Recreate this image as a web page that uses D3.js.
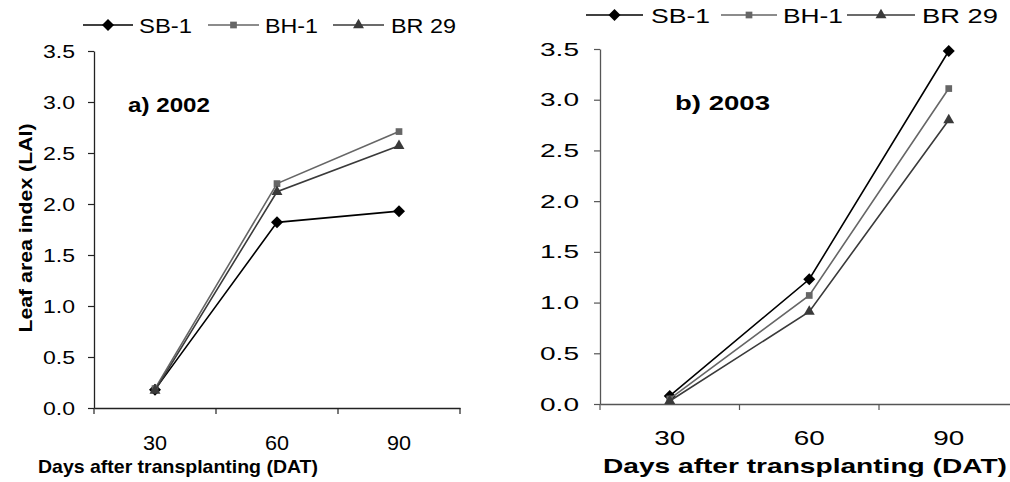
<!DOCTYPE html>
<html>
<head>
  <script src='https://d3js.org/d3.v7.min.js'></script>
  <style>
    body { margin: 0; background: #fff; }
    text { font-family: 'Liberation Sans', Arial, sans-serif; }
  </style>
</head>
<body>
  <svg id="canvas" width="1010" height="482"></svg>
  <script>
    // data
    const days = ['30', '60', '90'];
    const varieties = ['SB-1', 'BH-1', 'BR 29'];
    const lai2002 = {
      'SB-1': [0.18, 1.82, 1.93],
      'BH-1': [0.19, 2.20, 2.71],
      'BR 29': [0.17, 2.12, 2.57]
    };
    const lai2003 = {
      'SB-1': [0.08, 1.23, 3.48],
      'BH-1': [0.05, 1.07, 3.11],
      'BR 29': [0.03, 0.91, 2.80]
    };
    const yTicks = [0, 0.5, 1, 1.5, 2, 2.5, 3, 3.5];

    const colors = { 'SB-1': '#000', 'BH-1': '#666', 'BR 29': '#3a3a3a' };
    // diamond = square turned 45 degrees
    const symbols = { 'SB-1': d3.symbolSquare, 'BH-1': d3.symbolSquare, 'BR 29': d3.symbolTriangle };
    const symSize = { 'SB-1': 72, 'BH-1': 45, 'BR 29': 52 };
    const symRot = { 'SB-1': 45, 'BH-1': 0, 'BR 29': 0 };

    const svg = d3.select('svg#canvas');

    // panel layouts (pixel frame of each chart)
    const panels = [
      {
        data: lai2002, title: 'a) 2002', left: 94, right: 460, top: 51, bottom: 408, axisColor: '#222',
        yLab: { size: 19, w: 32, gap: 19 }, xLab: { size: 20, w: 24, y: 450 },
        titlePos: { x: 128, y: 112, w: 82, size: 20 },
        xTitle: { x: 38, y: 473, w: 280, size: 19 },
        legend: { y: 25, size: 21, items: [[83, 133, 139, 53], [208, 259, 265, 53], [333, 384, 391, 65]] },
        yTitle: true
      },
      {
        data: lai2003, title: 'b) 2003', left: 600, right: 1018.5, top: 49, bottom: 404, axisColor: '#555',
        yLab: { size: 19, w: 39, gap: 21 }, xLab: { size: 21, w: 31, y: 445 },
        titlePos: { x: 675, y: 110, w: 95, size: 20 },
        xTitle: { x: 603, y: 473, w: 404, size: 21 },
        legend: { y: 15, size: 21, items: [[586, 643, 651, 59], [721, 777, 783, 60], [847, 915, 922, 76]] },
        yTitle: false
      }
    ];

    panels.forEach(p => {
      const g = svg.append('g');

      const x = d3.scaleBand().domain(days).range([p.left, p.right]);
      const y = d3.scaleLinear().domain([0, 3.5]).range([p.bottom, p.top]);

      // y axis
      const yAxis = d3.axisLeft(y).tickValues(yTicks).tickFormat(d3.format('.1f'))
        .tickSizeInner(6).tickSizeOuter(0).tickPadding(p.yLab.gap - 6);
      const yg = g.append('g').attr('transform', `translate(${p.left},0)`).call(yAxis);
      yg.select('.domain').attr('stroke', p.axisColor).attr('stroke-width', 1.3);
      yg.selectAll('.tick line').attr('stroke', p.axisColor).attr('stroke-width', 1.2);
      yg.selectAll('.tick text')
        .attr('font-size', p.yLab.size).attr('font-family', "'Liberation Sans', Arial, sans-serif")
        .attr('fill', '#000')
        .attr('textLength', p.yLab.w).attr('lengthAdjust', 'spacingAndGlyphs');

      // x axis: labels at band centres, ticks at band edges
      const xAxis = d3.axisBottom(x).tickSize(0).tickPadding(0);
      const xg = g.append('g').attr('transform', `translate(0,${p.bottom})`).call(xAxis);
      xg.select('.domain').attr('stroke', p.axisColor).attr('stroke-width', 1.3);
      xg.selectAll('.tick text')
        .attr('font-size', p.xLab.size).attr('font-family', "'Liberation Sans', Arial, sans-serif")
        .attr('fill', '#000')
        .attr('dy', null)
        .attr('y', p.xLab.y - p.bottom)
        .attr('textLength', p.xLab.w).attr('lengthAdjust', 'spacingAndGlyphs');
      const edges = days.map(d => x(d)).concat([x.range()[1]]);
      g.selectAll('line.xedge').data(edges).enter().append('line')
        .attr('x1', d => d).attr('x2', d => d)
        .attr('y1', p.bottom).attr('y2', p.bottom + 6)
        .attr('stroke', p.axisColor).attr('stroke-width', 1.2);

      // series lines and markers
      const cx = d => x(d) + x.bandwidth() / 2;
      const line = d3.line().x((v, i) => cx(days[i])).y(v => y(v));
      varieties.forEach(v => {
        g.append('path')
          .attr('d', line(p.data[v]))
          .attr('fill', 'none')
          .attr('stroke', colors[v])
          .attr('stroke-width', 1.6);
        g.selectAll(null).data(p.data[v]).enter().append('path')
          .attr('d', d3.symbol().type(symbols[v]).size(symSize[v]))
          .attr('transform', (val, i) => `translate(${cx(days[i])},${y(val)})rotate(${symRot[v]})`)
          .attr('fill', colors[v]);
      });

      // panel title
      g.append('text')
        .attr('x', p.titlePos.x).attr('y', p.titlePos.y)
        .attr('font-size', p.titlePos.size).attr('font-weight', 'bold')
        .attr('textLength', p.titlePos.w).attr('lengthAdjust', 'spacingAndGlyphs')
        .text(p.title);

      // x axis title
      g.append('text')
        .attr('x', p.xTitle.x).attr('y', p.xTitle.y)
        .attr('font-size', p.xTitle.size).attr('font-weight', 'bold')
        .attr('textLength', p.xTitle.w).attr('lengthAdjust', 'spacingAndGlyphs')
        .text('Days after transplanting (DAT)');

      // legend
      varieties.forEach((v, i) => {
        const [x1, x2, tx, tw] = p.legend.items[i];
        g.append('line')
          .attr('x1', x1).attr('x2', x2).attr('y1', p.legend.y).attr('y2', p.legend.y)
          .attr('stroke', colors[v]).attr('stroke-width', 1.6);
        g.append('path')
          .attr('d', d3.symbol().type(symbols[v]).size(symSize[v]))
          .attr('transform', `translate(${(x1 + x2) / 2},${p.legend.y})rotate(${symRot[v]})`)
          .attr('fill', colors[v]);
        g.append('text')
          .attr('x', tx).attr('y', p.legend.y + 7.5)
          .attr('font-size', p.legend.size)
          .attr('textLength', tw).attr('lengthAdjust', 'spacingAndGlyphs')
          .text(v);
      });

      // y axis title (only on the left panel)
      if (p.yTitle) {
        g.append('text')
          .attr('transform', 'translate(32,228)rotate(-90)')
          .attr('text-anchor', 'middle')
          .attr('font-size', 19).attr('font-weight', 'bold')
          .attr('textLength', 209).attr('lengthAdjust', 'spacingAndGlyphs')
          .text('Leaf area index (LAI)');
      }
    });
  </script>
</body>
</html>
